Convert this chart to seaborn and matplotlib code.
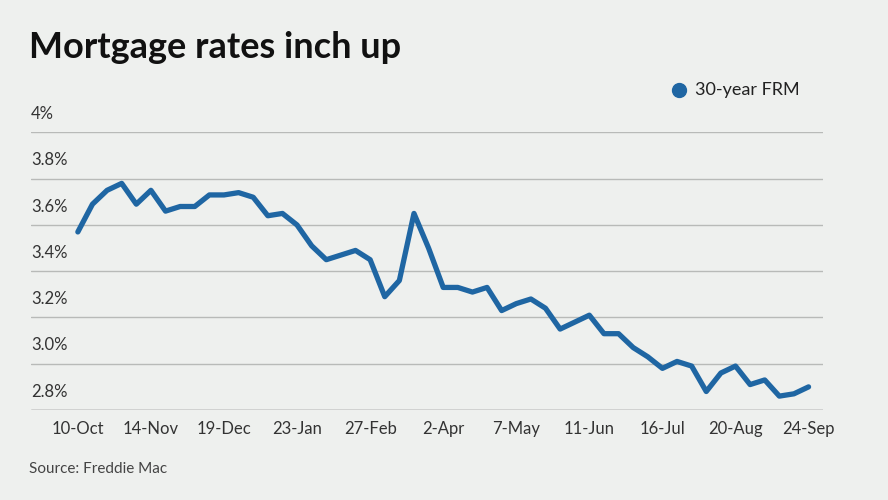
import matplotlib
matplotlib.use("Agg")
import matplotlib.pyplot as plt
import seaborn as sns
import pandas as pd

rates = [3.57, 3.69, 3.75, 3.78, 3.69, 3.75, 3.66, 3.68, 3.68, 3.73, 3.73, 3.74, 3.72,
         3.64, 3.65, 3.60, 3.51, 3.45, 3.47, 3.49, 3.45, 3.29, 3.36, 3.65, 3.50, 3.33,
         3.33, 3.31, 3.33, 3.23, 3.26, 3.28, 3.24, 3.15, 3.18, 3.21, 3.13, 3.13, 3.07,
         3.03, 2.98, 3.01, 2.99, 2.88, 2.96, 2.99, 2.91, 2.93, 2.86, 2.87, 2.90]
tick_labels = ["10-Oct", "14-Nov", "19-Dec", "23-Jan", "27-Feb", "2-Apr", "7-May",
               "11-Jun", "16-Jul", "20-Aug", "24-Sep"]
y_ticks = [2.8, 3.0, 3.2, 3.4, 3.6, 3.8, 4.0]
y_labels = ["2.8%", "3.0%", "3.2%", "3.4%", "3.6%", "3.8%", "4%"]

df = pd.DataFrame({"week": range(len(rates)), "rate": rates})

bg = "#eef0ee"
blue = "#1f66a3"
sns.set_style("white")
plt.rcParams["font.family"] = ["Lato", "DejaVu Sans"]

fig = plt.figure(figsize=(8.88, 5.0), dpi=100, facecolor=bg)
ax = fig.add_axes([0.035, 0.18, 0.892, 0.555], facecolor=bg)
sns.lineplot(data=df, x="week", y="rate", color=blue, linewidth=3.8, ax=ax)

ax.set_ylim(2.8, 4.0)
ax.set_xlim(-3.2, 51.0)
ax.set_yticks(y_ticks)
ax.set_yticklabels([])
for v, lab in zip(y_ticks, y_labels):
    ax.axhline(v, color="#b8bab8", linewidth=1, zorder=0)
    ax.text(0.0, v + 0.045, lab, transform=ax.get_yaxis_transform(), ha="left",
            va="bottom", fontsize=12, color="#333333")
ax.set_xticks(range(0, len(rates), 5))
ax.set_xticklabels(tick_labels, fontsize=12, color="#333333")
ax.tick_params(axis="both", length=0, pad=8)
ax.set_xlabel("")
ax.set_ylabel("")
for s in ax.spines.values():
    s.set_visible(False)
ax.axhline(2.8, color="#888888", linewidth=1)

fig.text(0.033, 0.905, "Mortgage rates inch up", fontsize=26, fontweight="bold",
         color="#111111", va="center")
fig.text(0.033, 0.062, "Source: Freddie Mac", fontsize=11, color="#444444", va="center")
fig.lines.append(plt.Line2D([0.765], [0.82], marker="o", markersize=10, color=blue,
                            transform=fig.transFigure))
fig.text(0.783, 0.82, "30-year FRM", fontsize=13, color="#222222", va="center")

fig.savefig("out.png", dpi=100, facecolor=bg)
